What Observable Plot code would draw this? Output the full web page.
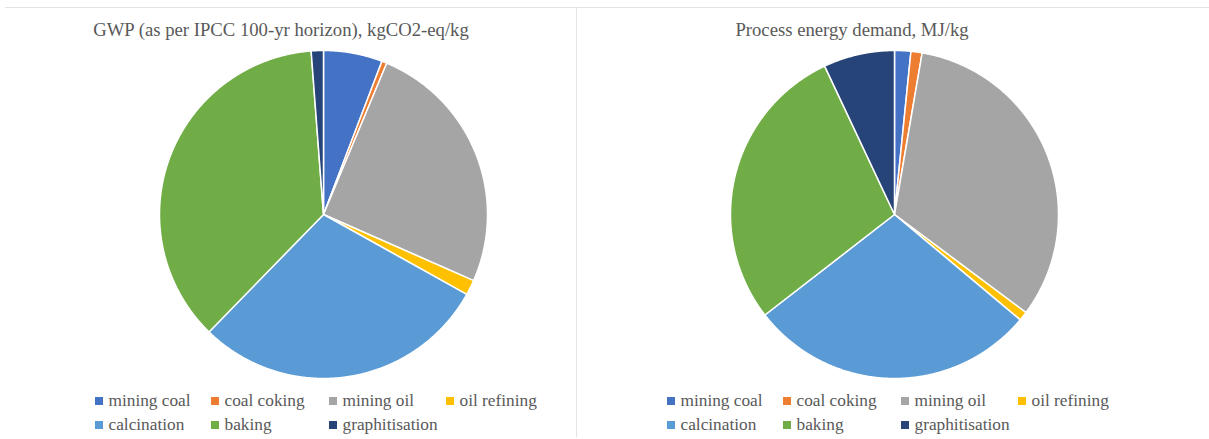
<!DOCTYPE html>
<html>
<head>
<meta charset="utf-8">
<script src="https://cdn.jsdelivr.net/npm/d3@7"></script>
<script src="https://cdn.jsdelivr.net/npm/@observablehq/plot@0.6"></script>
<style>
  html, body { margin: 0; padding: 0; background: #fff; }
  #wrap { position: relative; width: 1209px; height: 439px; overflow: hidden; font-family: "Liberation Serif", "Tinos", "DejaVu Serif", "Times New Roman", serif; color: #595959; }
  .hline { position: absolute; left: 5px; top: 7px; width: 1204px; height: 1px; background: #e3e3e3; }
  .vline { position: absolute; left: 576px; top: 8px; width: 1px; height: 429px; background: #e3e3e3; }
  .title { position: absolute; top: 16px; font-size: 18.7px; white-space: nowrap; transform: translateX(-50%); line-height: 28px; font-family: "Liberation Serif", "Tinos", "DejaVu Serif", serif; }
  .pie { position: absolute; }
  .legend { position: absolute; font-size: 17.3px; font-family: "Liberation Serif", "Tinos", "DejaVu Serif", serif; }
  .item { position: absolute; white-space: nowrap; line-height: 20px; display: flex; align-items: center; }
  .sw { display: inline-block; width: 8px; height: 8px; margin-right: 6px; }
</style>
</head>
<body>
<div id="wrap">
  <div class="hline"></div>
  <div class="vline"></div>
</div>
<script>
// ---- data ----
const categories = ["mining coal", "coal coking", "mining oil", "oil refining", "calcination", "baking", "graphitisation"];
const colors = ["#4472C4", "#ED7D31", "#A5A5A5", "#FFC000", "#5B9BD5", "#70AD47", "#264478"];
const gwpTitle = "GWP (as per IPCC 100-yr horizon), kgCO2-eq/kg";
const gwpValues = [5.8, 0.5, 25.3, 1.5, 29.2, 36.5, 1.2];
const energyTitle = "Process energy demand, MJ/kg";
const energyValues = [1.6, 1.1, 32.5, 0.9, 28.4, 28.5, 7.0];

const wrap = document.getElementById("wrap");

function wedgePoints(values) {
  const arcs = d3.pie().sort(null).value(d => d)(values);
  const pts = [];
  arcs.forEach((a, i) => {
    const name = categories[i];
    pts.push({name, x: 0, y: 0});
    const n = Math.max(2, Math.ceil((a.endAngle - a.startAngle) / 0.005));
    for (let k = 0; k <= n; k++) {
      const t = a.startAngle + (a.endAngle - a.startAngle) * k / n;
      pts.push({name, x: Math.sin(t), y: Math.cos(t)});
    }
    pts.push({name, x: 0, y: 0});
  });
  return pts;
}

function drawPanel(title, values, cx, cy, titleX, legendX) {
  const size = 332, r = 164;
  const ext = size / 2 / r;
  const chart = Plot.plot({
    width: size, height: size, margin: 0,
    x: {domain: [-ext, ext], axis: null},
    y: {domain: [-ext, ext], axis: null},
    color: {domain: categories, range: colors},
    style: {background: "transparent"},
    marks: [
      Plot.line(wedgePoints(values), {x: "x", y: "y", z: "name", fill: "name", stroke: "#ffffff", strokeWidth: 1.5, strokeLinejoin: "round"})
    ]
  });
  chart.classList.add("pie");
  chart.style.left = (cx - size / 2) + "px";
  chart.style.top = (cy - size / 2) + "px";
  wrap.appendChild(chart);

  const t = document.createElement("div");
  t.className = "title";
  t.textContent = title;
  t.style.left = titleX + "px";
  wrap.appendChild(t);

  const colOff = [0, 116, 234, 351];
  categories.forEach((c, i) => {
    const row = Math.floor(i / 4), col = i % 4;
    const it = document.createElement("div");
    it.className = "item legend";
    it.style.left = (legendX + colOff[col]) + "px";
    it.style.top = (391 + row * 24) + "px";
    const sw = document.createElement("span");
    sw.className = "sw";
    sw.style.background = colors[i];
    it.appendChild(sw);
    it.appendChild(document.createTextNode(c));
    wrap.appendChild(it);
  });
}

drawPanel(gwpTitle, gwpValues, 323, 214, 281, 94.5);
drawPanel(energyTitle, energyValues, 894, 214, 852, 666.5);
</script>
</body>
</html>
